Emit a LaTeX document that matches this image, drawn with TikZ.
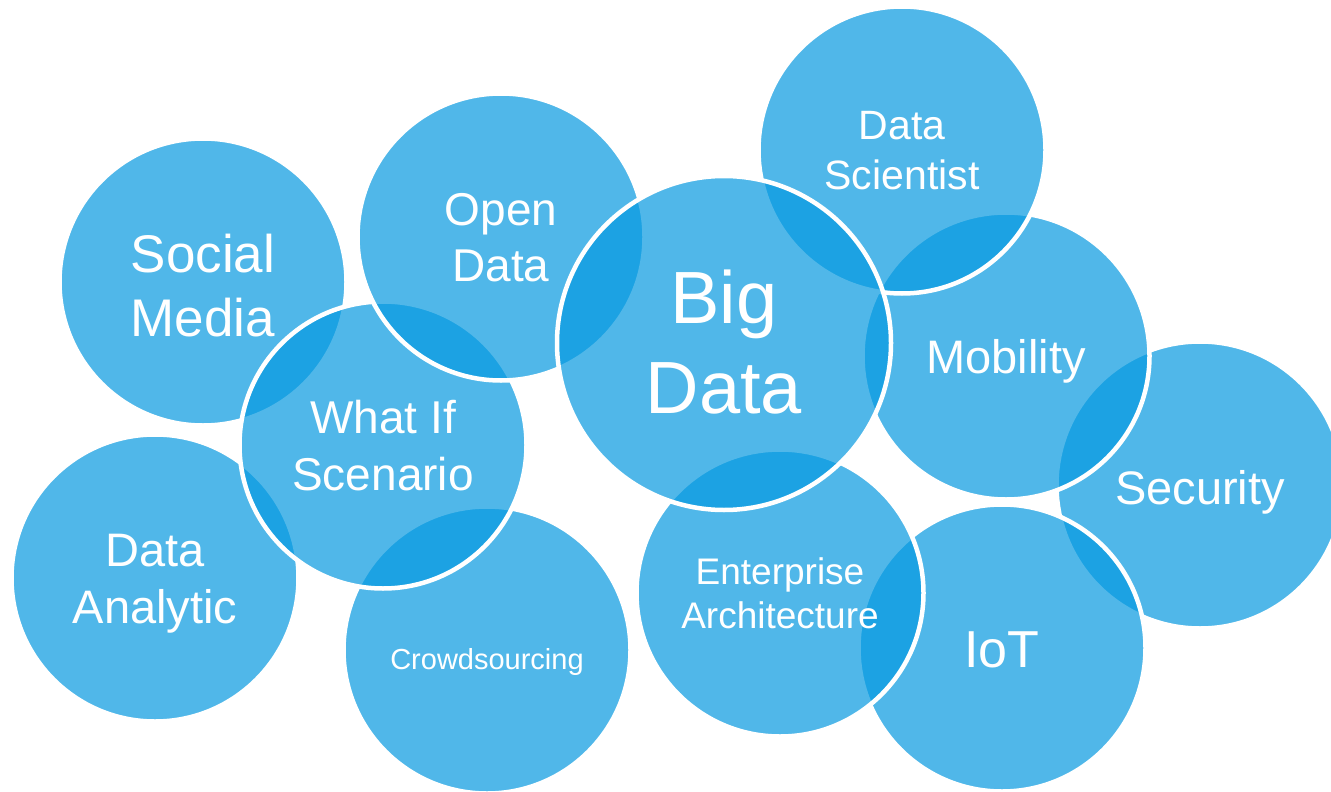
\documentclass[tikz,border=0pt]{standalone}
\usepackage{fontspec}
\setmainfont{Liberation Sans}
\definecolor{bubblebase}{RGB}{6,153,224}
\tikzset{
  bubble/.style={circle, inner sep=0pt, outer sep=0pt, fill=bubblebase, fill opacity=0.7,
    draw=white, draw opacity=1, line width=4.5pt},
  small/.style={bubble, minimum size=287pt},
  large/.style={bubble, minimum size=334pt},
  lbl/.style={text=white, align=center, inner sep=0pt}
}
\begin{document}
\begin{tikzpicture}[x=1pt,y=-1pt]
\useasboundingbox (0,0) rectangle (1331,792);
\clip (0,0) rectangle (1331,792);
% circles in stacking order
\node[small] (sm) at (203,282) {};
\node[small] (da) at (155,578) {};
\node[small] (cs) at (487,650) {};
\node[small] (wi) at (383,445) {};
\node[small] (od) at (501,237) {};
\node[small] (se) at (1200,485) {};
\node[small] (mo) at (1006,356) {};
\node[small] (ds) at (902,150) {};
\node[small] (io) at (1002,648) {};
\node[small] (ea) at (780,593) {};
\node[large] (bd) at (724,343) {};
% labels
\node[lbl, font=\fontsize{53}{64}\selectfont] (tsm) at ([yshift=-4pt]sm.center) {Social\\Media};
\node[lbl, font=\fontsize{47}{57}\selectfont] (tda) at ([yshift=-6pt]da.center) {Data\\Analytic};
\node[lbl, font=\fontsize{29}{34}\selectfont] (tcs) at ([yshift=-12pt]cs.center) {Crowdsourcing};
\node[lbl, font=\fontsize{46}{57}\selectfont] (twi) at ([yshift=-1pt]wi.center) {What If\\Scenario};
\node[lbl, font=\fontsize{46}{56}\selectfont] (tod) at ([yshift=-1pt]od.center) {Open\\Data};
\node[lbl, font=\fontsize{47}{56}\selectfont] (tse) at ([yshift=-7pt]se.center) {Security};
\node[lbl, font=\fontsize{47}{56}\selectfont] (tmo) at ([yshift=-5pt]mo.center) {Mobility};
\node[lbl, font=\fontsize{41}{50}\selectfont] (tds) at ([yshift=-1pt]ds.center) {Data\\Scientist};
\node[lbl, font=\fontsize{52}{60}\selectfont] (tio) at ([yshift=-2pt]io.center) {IoT};
\node[lbl, font=\fontsize{37}{44}\selectfont] (tea) at (ea) {Enterprise\\Architecture};
\node[lbl, font=\fontsize{74}{90}\selectfont] (tbd) at ([yshift=1pt]bd.center) {Big\\Data};
\end{tikzpicture}
\end{document}
